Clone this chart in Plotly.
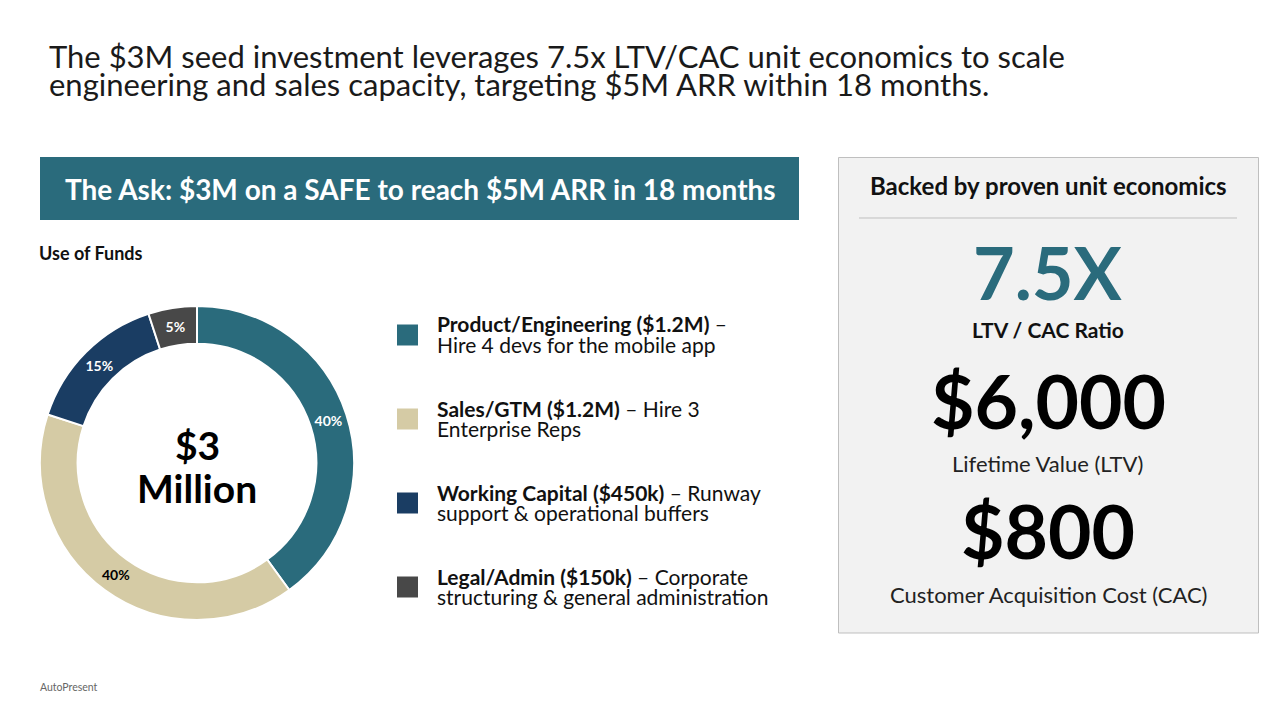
import plotly.graph_objects as go

# ---- data ----
categories = ["Product/Engineering", "Sales/GTM", "Working Capital", "Legal/Admin"]
amounts_musd = [1.2, 1.2, 0.45, 0.15]
amount_labels = ["$1.2M", "$1.2M", "$450k", "$150k"]
desc_line1 = [" \u2013", " \u2013 Hire 3", " \u2013 Runway", " \u2013 Corporate"]
desc_line2 = ["Hire 4 devs for the mobile app", "Enterprise Reps",
              "support & operational buffers", "structuring & general administration"]
slice_colors = ["#2A6B7C", "#D5CBA5", "#1A3D63", "#484848"]
label_colors = ["white", "black", "white", "white"]

title_lines = ["The $3M seed investment leverages 7.5x LTV/CAC unit economics to scale",
               "engineering and sales capacity, targeting $5M ARR within 18 months."]
banner_text = "The Ask: $3M on a SAFE to reach $5M ARR in 18 months"
center_text = ["$3", "Million"]
metrics = ["7.5X", "$6,000", "$800"]
metric_labels = ["LTV / CAC Ratio", "Lifetime Value (LTV)", "Customer Acquisition Cost (CAC)"]

W, H = 1280, 720
FONT = "Lato"

def px(x):
    return x / W

def py(y):
    return 1 - y / H

fig = go.Figure()

fig.add_trace(go.Pie(
    labels=categories,
    values=amounts_musd,
    hole=0.76,
    sort=False,
    direction="clockwise",
    rotation=0,
    marker=dict(colors=slice_colors, line=dict(color="white", width=2)),
    textinfo="percent",
    texttemplate="<b>%{percent:.0%}</b>",
    textposition="inside",
    insidetextorientation="horizontal",
    textfont=dict(family=FONT, size=14, color=label_colors),
    domain=dict(x=[px(40), px(354)], y=[py(620), py(306)]),
    showlegend=False,
    hoverinfo="label+value+percent",
))

shapes = []
ann = []

# banner
shapes.append(dict(type="rect", xref="paper", yref="paper",
                   x0=px(40), x1=px(799), y0=py(220), y1=py(157),
                   fillcolor="#2A6B7C", line=dict(width=0), layer="below"))
ann.append(dict(x=px(420), y=py(189), text="<b>" + banner_text + "</b>",
                font=dict(family=FONT, size=28, color="white")))

# right panel
shapes.append(dict(type="rect", xref="paper", yref="paper",
                   x0=px(838.5), x1=px(1258.5), y0=py(633), y1=py(157.5),
                   fillcolor="#F2F2F2", line=dict(color="#BFBFBF", width=1), layer="below"))
shapes.append(dict(type="line", xref="paper", yref="paper",
                   x0=px(859), x1=px(1237), y0=py(218), y1=py(218),
                   line=dict(color="#BFBFBF", width=1)))
ann.append(dict(x=px(1048), y=py(186), text="<b>Backed by proven unit economics</b>",
                font=dict(family=FONT, size=24, color="#111111")))
ann.append(dict(x=px(1048), y=py(272), text="<b>" + metrics[0] + "</b>",
                font=dict(family=FONT, size=72, color="#2A6B7C")))
ann.append(dict(x=px(1048), y=py(330), text="<b>" + metric_labels[0] + "</b>",
                font=dict(family=FONT, size=21, color="#111111")))
ann.append(dict(x=px(1048), y=py(400), text="<b>" + metrics[1] + "</b>",
                font=dict(family=FONT, size=75, color="#000000")))
ann.append(dict(x=px(1048), y=py(463), text=metric_labels[1],
                font=dict(family=FONT, size=22, color="#222222")))
ann.append(dict(x=px(1048), y=py(530), text="<b>" + metrics[2] + "</b>",
                font=dict(family=FONT, size=75, color="#000000")))
ann.append(dict(x=px(1048), y=py(594), text=metric_labels[2],
                font=dict(family=FONT, size=22, color="#222222")))

# title
for i, line in enumerate(title_lines):
    ann.append(dict(x=px(47), y=py(56 + 28 * i), text=line, xanchor="left",
                    font=dict(family=FONT, size=31, color="#1a1a1a")))

# use of funds
ann.append(dict(x=px(37), y=py(253), text="<b>Use of Funds</b>", xanchor="left",
                font=dict(family=FONT, size=18, color="#111111")))

# donut center
ann.append(dict(x=px(197), y=py(445), text="<b>" + center_text[0] + "</b>",
                font=dict(family=FONT, size=39, color="#000000")))
ann.append(dict(x=px(197), y=py(488), text="<b>" + center_text[1] + "</b>",
                font=dict(family=FONT, size=39, color="#000000")))

# legend
for i in range(len(categories)):
    yc = 335 + 84 * i
    shapes.append(dict(type="rect", xref="paper", yref="paper",
                       x0=px(397), x1=px(418), y0=py(yc + 10.5), y1=py(yc - 10.5),
                       fillcolor=slice_colors[i], line=dict(width=0)))
    ann.append(dict(x=px(435), y=py(yc - 11), xanchor="left",
                    text="<b>" + categories[i] + " (" + amount_labels[i] + ")</b>" + desc_line1[i],
                    font=dict(family=FONT, size=21, color="#111111")))
    ann.append(dict(x=px(435), y=py(yc + 9), xanchor="left", text=desc_line2[i],
                    font=dict(family=FONT, size=21, color="#111111")))

# footer
ann.append(dict(x=px(38), y=py(687), text="AutoPresent", xanchor="left",
                font=dict(family=FONT, size=10.5, color="#666666")))

for a in ann:
    a.setdefault("xref", "paper")
    a.setdefault("yref", "paper")
    a.setdefault("showarrow", False)
    a.setdefault("yanchor", "middle")
    a.setdefault("xanchor", "center")

fig.update_layout(
    width=W, height=H,
    margin=dict(l=0, r=0, t=0, b=0),
    paper_bgcolor="white", plot_bgcolor="white",
    shapes=shapes, annotations=ann,
    font=dict(family=FONT),
)

fig.write_html("out.html", config={"displayModeBar": False})
